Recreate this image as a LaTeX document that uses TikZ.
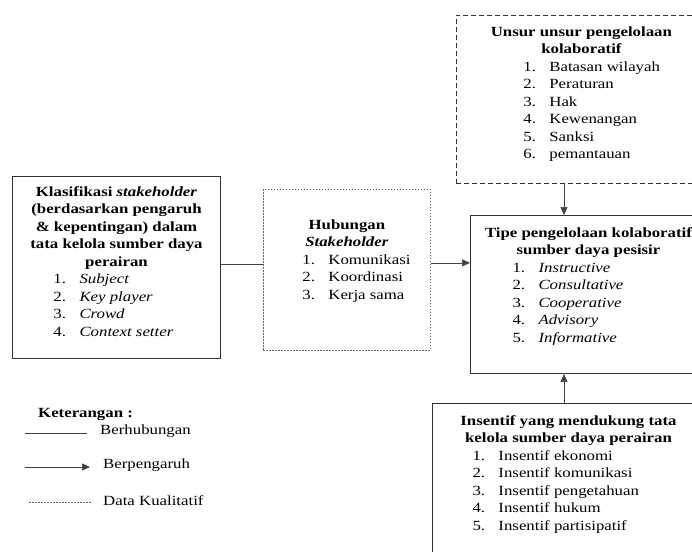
\documentclass[tikz,border=0pt]{standalone}
\usepackage{fontspec}
\setmainfont{Liberation Serif}[FakeStretch=1.2]
\usetikzlibrary{arrows.meta}

\newcommand{\itm}[2]{\makebox[26pt][l]{#1.}#2\par}
\newcommand{\boxtext}[6]{\parbox[c][#2][t]{#1}{\vspace*{#3}{\centering\bfseries #4\par}\leftskip=#5\relax #6}}

\begin{document}
\begin{tikzpicture}[x=1pt, y=-1pt,
  font=\fontsize{14}{17.5}\selectfont,
  solidbox/.style={draw=black!80, line width=1pt, inner sep=0pt, anchor=north west},
  dotbox/.style={draw=black!60, line width=0.8pt, dash pattern=on 1.5pt off 1.5pt, inner sep=0pt, anchor=north west},
  dashbox/.style={draw=black!80, line width=0.8pt, dash pattern=on 5pt off 3pt, inner sep=0pt, anchor=north west},
  link/.style={draw=black!75, line width=0.7pt},
  arr/.style={link, -{Triangle[length=8pt,width=7pt]}},
  legtext/.style={anchor=west, inner sep=0pt}]
\useasboundingbox (0,0) rectangle (692,551);
\clip (0,0) rectangle (692,551);

% boxes
\node[solidbox] (klas) at (12,176) {\boxtext{208pt}{182pt}{10pt}
  {Klasifikasi \textit{stakeholder}\\(berdasarkan pengaruh\\\& kepentingan) dalam\\tata kelola sumber daya\\perairan}
  {41pt}
  {\itm{1}{\textit{Subject}}\itm{2}{\textit{Key player}}\itm{3}{\textit{Crowd}}\itm{4}{\textit{Context setter}}}};
\node[dotbox] (hub) at (263,189) {\boxtext{167pt}{161pt}{30pt}
  {Hubungan\\\textit{Stakeholder}}
  {39pt}
  {\itm{1}{Komunikasi}\itm{2}{Koordinasi}\itm{3}{Kerja sama}}};
\node[dashbox] (unsur) at (456,15) {\boxtext{250pt}{168pt}{11pt}
  {Unsur unsur pengelolaan\\kolaboratif}
  {67pt}
  {\itm{1}{Batasan wilayah}\itm{2}{Peraturan}\itm{3}{Hak}\itm{4}{Kewenangan}\itm{5}{Sanksi}\itm{6}{pemantauan}}};
\node[solidbox] (tipe) at (470,215) {\boxtext{236pt}{158pt}{12pt}
  {Tipe pengelolaan kolaboratif\\sumber daya pesisir}
  {42pt}
  {\itm{1}{\textit{Instructive}}\itm{2}{\textit{Consultative}}\itm{3}{\textit{Cooperative}}\itm{4}{\textit{Advisory}}\itm{5}{\textit{Informative}}}};
\node[solidbox] (ins) at (432,403) {\boxtext{272pt}{200pt}{12pt}
  {Insentif yang mendukung tata\\kelola sumber daya perairan}
  {40pt}
  {\itm{1}{Insentif ekonomi}\itm{2}{Insentif komunikasi}\itm{3}{Insentif pengetahuan}\itm{4}{Insentif hukum}\itm{5}{Insentif partisipatif}}};

% connectors
\coordinate (mid) at (564,0);
\draw[link] ([yshift=6pt]hub.west) -- ([yshift=6pt]hub.west -| klas.east);
\draw[arr] ([yshift=7pt]hub.east) -- ([yshift=7pt]hub.east -| tipe.west);
\draw[arr] (unsur.south -| mid) -- (tipe.north -| mid);
\draw[arr] (ins.north -| mid) -- (tipe.south -| mid);

% legend
\node[legtext, font=\fontsize{14}{17.5}\selectfont\bfseries] (ket) at (38,414) {Keterangan :};
\coordinate (l1a) at (25,433);
\coordinate (l1b) at (87,433);
\coordinate (l2a) at (25,467);
\coordinate (l2b) at (90,467);
\coordinate (l3a) at (29,502);
\coordinate (l3b) at (92,502);
\draw[link] (l1a) -- (l1b);
\draw[arr] (l2a) -- (l2b);
\draw[link, draw=black!60, dash pattern=on 1.5pt off 1.5pt] (l3a) -- (l3b);
\node[legtext] (berh) at (100,431) {Berhubungan};
\node[legtext] (berp) at (103,465) {Berpengaruh};
\node[legtext] (dk) at (103,501) {Data Kualitatif};
\end{tikzpicture}
\end{document}
